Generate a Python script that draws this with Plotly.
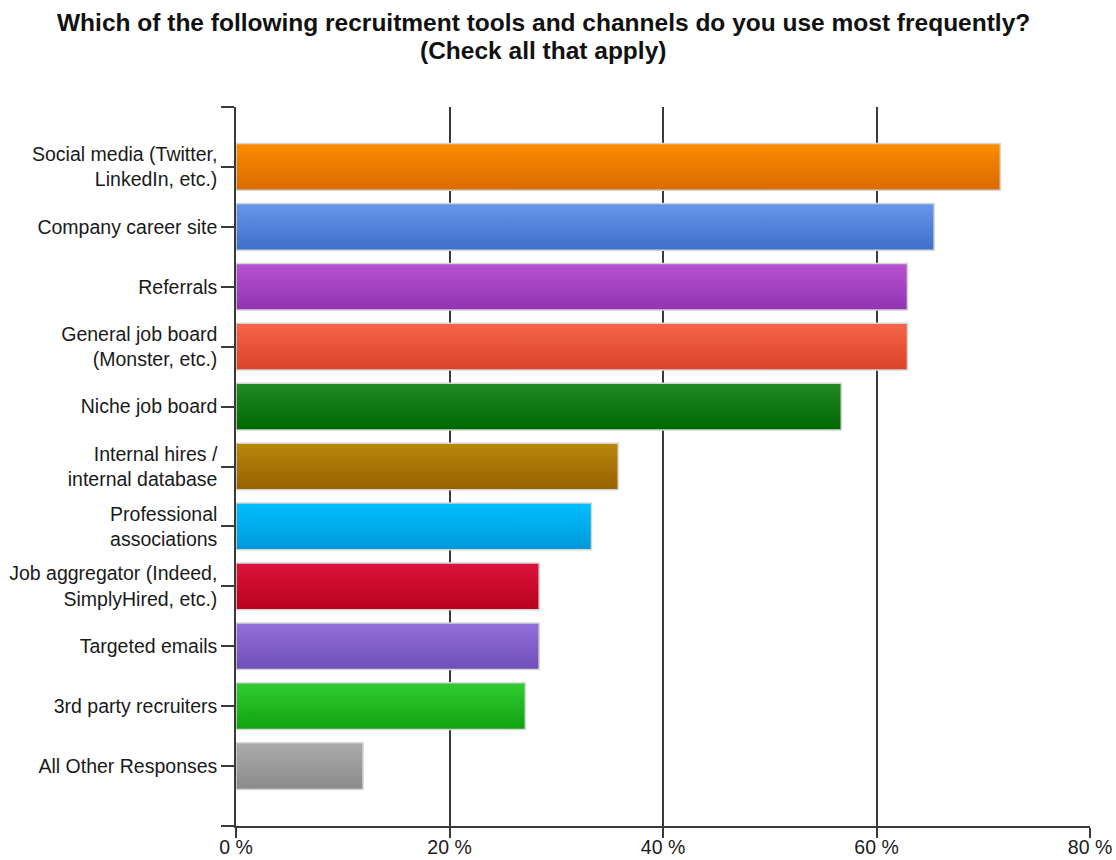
import plotly.graph_objects as go

# Survey results: share of respondents using each channel (%)
categories = [
    "Social media (Twitter,<br>LinkedIn, etc.)",
    "Company career site",
    "Referrals",
    "General job board<br>(Monster, etc.)",
    "Niche job board",
    "Internal hires /<br>internal database",
    "Professional<br>associations",
    "Job aggregator (Indeed,<br>SimplyHired, etc.)",
    "Targeted emails",
    "3rd party recruiters",
    "All Other Responses",
]
values = [71.6, 65.4, 62.9, 62.9, 56.7, 35.8, 33.3, 28.4, 28.4, 27.1, 11.9]

# Gradient colours per bar: (top, bottom)
top_colors = ["#fb8d00", "#6797ea", "#b853d2", "#f6644a", "#218a22", "#b9870c",
              "#00bfff", "#dc143c", "#9470dc", "#31cc31", "#ababab"]
bottom_colors = ["#da6a00", "#3e6fca", "#9034b1", "#da4327", "#006800", "#976100",
                 "#0098d8", "#b8001d", "#6e4fb7", "#10a210", "#8a8a8a"]

x_ticks = [0, 20, 40, 60, 80]
x_ticktext = ["0 %", "20 %", "40 %", "60 %", "80 %"]

title_lines = [
    "Which of the following recruitment tools and channels do you use most frequently?",
    "(Check all that apply)",
]

FONT = "Liberation Sans, Arial, sans-serif"
half = 0.39
n = len(categories)

fig = go.Figure()
for i, (v, ct, cb) in enumerate(zip(values, top_colors, bottom_colors)):
    yc = n - 1 - i
    y0, y1 = yc - half, yc + half
    fig.add_trace(go.Scatter(
        x=[0, v, v, 0, 0],
        y=[y0, y0, y1, y1, y0],
        mode="lines",
        fill="toself",
        fillgradient=dict(type="vertical", start=y0, stop=y1,
                          colorscale=[[0, cb], [1, ct]]),
        line=dict(color="#d6d6d6", width=1.5),
        hoverinfo="skip",
        showlegend=False,
    ))

ytickvals = [-1] + [n - 1 - i for i in range(n)] + [n]
yticktext = [""] + categories + [""]

# plot area spans 107..826 px vertically; title lines centred at 22 and 50 px
plot_top, plot_bottom = 107, 826
title_y = [22, 50]
annotations = [
    dict(
        text=t,
        xref="paper", yref="paper",
        x=(543 - 236) / 854, y=(plot_bottom - py) / (plot_bottom - plot_top),
        xanchor="center", yanchor="middle",
        showarrow=False,
        font=dict(family=FONT, size=24.5, color="#111111", weight="bold"),
    )
    for t, py in zip(title_lines, title_y)
]

fig.update_layout(
    width=1116,
    height=860,
    margin=dict(l=236, r=26, t=plot_top, b=860 - plot_bottom),
    plot_bgcolor="white",
    paper_bgcolor="white",
    font=dict(family=FONT, size=19.5, color="#1a1a1a"),
    xaxis=dict(
        range=[0, 80],
        tickvals=x_ticks,
        ticktext=x_ticktext,
        automargin=False,
        showgrid=True,
        gridcolor="#3a3a3a",
        gridwidth=1.5,
        zeroline=False,
        showline=True,
        linecolor="#3a3a3a",
        linewidth=1.5,
        ticks="outside",
        ticklen=10,
        tickwidth=1.5,
        tickcolor="#3a3a3a",
        ticklabelstandoff=-7,
        tickfont=dict(family=FONT, size=19.5, color="#1a1a1a"),
        fixedrange=True,
    ),
    yaxis=dict(
        range=[-1, n],
        tickvals=ytickvals,
        ticktext=yticktext,
        automargin=False,
        showgrid=False,
        zeroline=False,
        showline=True,
        linecolor="#3a3a3a",
        linewidth=1.5,
        ticks="outside",
        ticklen=13,
        tickwidth=1.5,
        tickcolor="#3a3a3a",
        ticklabelstandoff=0,
        tickfont=dict(family=FONT, size=19.5, color="#1a1a1a"),
        fixedrange=True,
    ),
    annotations=annotations,
)

fig.write_html("out.html")
